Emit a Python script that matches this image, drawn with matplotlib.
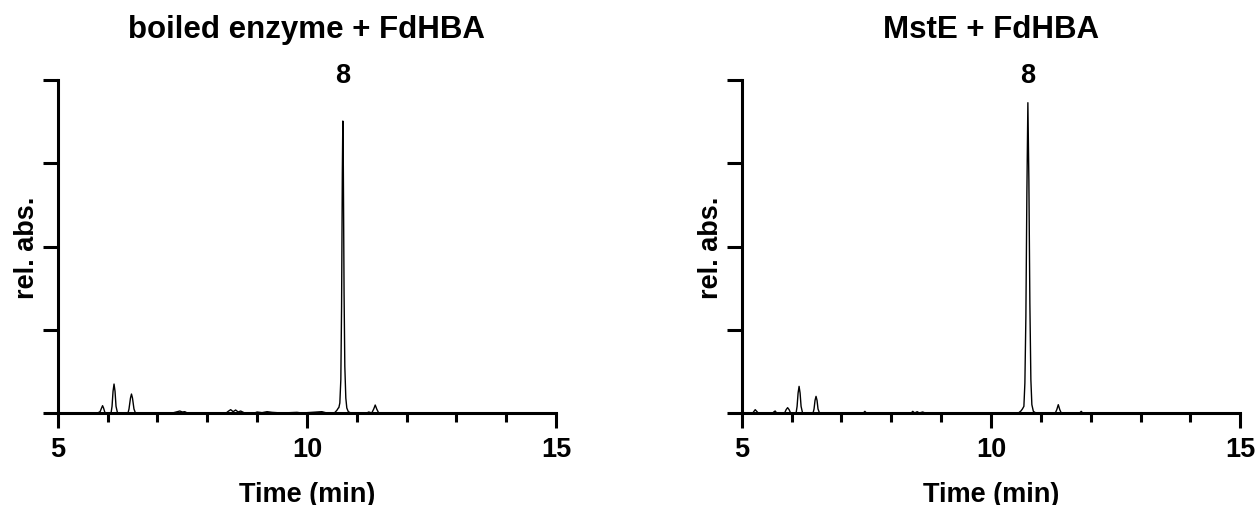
"""HPLC traces: boiled enzyme vs MstE with FdHBA."""

import matplotlib
matplotlib.use('Agg')
from matplotlib import pyplot as plt
from matplotlib.ticker import MultipleLocator
import matplotlib.transforms as mtransforms


# boiled enzyme + FdHBA (time in min, relative absorbance)
boiled_time = [5.0, 5.80, 5.85, 5.88, 5.90, 5.92, 5.95, 5.97, 6.00,
               6.07, 6.09, 6.11, 6.13, 6.15, 6.17, 6.20,
               6.41, 6.43, 6.46, 6.48, 6.50, 6.53, 6.56,
               7.30, 7.40, 7.45, 7.50, 7.55, 7.60,
               8.38, 8.42, 8.47, 8.52, 8.57, 8.62, 8.67, 8.75,
               8.95, 9.00, 9.10, 9.20, 9.30, 9.50, 9.80, 9.90, 10.30, 10.40,
               10.55, 10.60, 10.63, 10.64, 10.66, 10.68, 10.695, 10.71, 10.72,
               10.73, 10.745, 10.76, 10.78, 10.80, 10.83, 10.88,
               11.20, 11.24, 11.30, 11.34, 11.37, 11.40, 11.44, 12.0]
boiled_abs = [0.0, 0.0, 0.004, 0.015, 0.022, 0.015, 0.0, -0.004, 0.0,
              0.0, 0.02, 0.065, 0.087, 0.065, 0.02, 0.0,
              0.0, 0.012, 0.045, 0.057, 0.045, 0.012, 0.0,
              0.0, 0.004, 0.006, 0.003, 0.004, 0.0,
              0.0, 0.005, 0.010, 0.004, 0.009, 0.003, 0.006, 0.0,
              0.0, 0.003, 0.001, 0.004, 0.002, 0.0, 0.002, 0.0, 0.004, 0.0,
              0.0, 0.008, 0.015, 0.016, 0.03, 0.10, 0.32, 0.72, 0.877,
              0.74, 0.36, 0.14, 0.045, 0.015, 0.004, 0.0,
              0.0, 0.003, 0.0, 0.012, 0.024, 0.012, 0.0, 0.0]

# MstE + FdHBA
mste_time = [5.0, 5.22, 5.25, 5.27, 5.30, 5.33,
             5.62, 5.65, 5.67, 5.70,
             5.86, 5.89, 5.92, 5.95, 5.98,
             6.09, 6.11, 6.13, 6.15, 6.17, 6.19, 6.22,
             6.43, 6.45, 6.47, 6.49, 6.51, 6.53, 6.56,
             7.44, 7.47, 7.50,
             8.40, 8.43, 8.47, 8.52, 8.56, 8.63, 8.68,
             10.55, 10.60, 10.63, 10.66, 10.68, 10.70, 10.72, 10.74,
             10.76, 10.78, 10.80, 10.82, 10.85, 10.90,
             11.29, 11.32, 11.35, 11.38, 11.41,
             11.78, 11.81, 11.84, 12.0]
mste_abs = [0.0, 0.0, 0.006, 0.010, 0.005, 0.0,
            0.0, 0.004, 0.006, 0.0,
            0.0, 0.010, 0.016, 0.010, 0.0,
            0.0, 0.02, 0.06, 0.08, 0.06, 0.02, 0.0,
            0.0, 0.012, 0.038, 0.05, 0.038, 0.012, 0.0,
            0.0, 0.005, 0.0,
            0.0, 0.005, 0.0, 0.004, 0.0, 0.003, 0.0,
            0.0, 0.006, 0.012, 0.02, 0.09, 0.29, 0.66, 0.932,
            0.70, 0.33, 0.10, 0.025, 0.005, 0.0,
            0.0, 0.010, 0.025, 0.010, 0.0,
            0.0, 0.005, 0.0, 0.0]

titles = ['boiled enzyme + FdHBA', 'MstE + FdHBA']
peak_label = '8'
peak_time = [10.72, 10.74]


def draw_panel(ax, time, absorb, title, t_peak):
    ax.plot(time, absorb, color='black', lw=1.0, clip_on=False)
    ax.set_xlim(5, 15)
    ax.set_ylim(0, 1)
    ax.spines['top'].set_visible(False)
    ax.spines['right'].set_visible(False)
    ax.spines['left'].set_linewidth(2.2)
    ax.spines['bottom'].set_linewidth(2.2)
    ax.xaxis.set_major_locator(MultipleLocator(5))
    ax.xaxis.set_minor_locator(MultipleLocator(1))
    ax.yaxis.set_major_locator(MultipleLocator(0.25))
    ax.tick_params(axis='x', which='major', length=10.8, width=2.2,
                   labelsize=19.5, pad=6)
    ax.tick_params(axis='x', which='minor', length=6.5, width=2.2)
    ax.tick_params(axis='y', which='major', length=10.8, width=2.2,
                   labelleft=False)
    for lab in ax.get_xticklabels():
        lab.set_fontweight('bold')
    ax.set_xlabel('Time (min)', fontsize=19.5, fontweight='bold')
    ax.xaxis.set_label_coords(0.5, -0.205)
    ax.set_ylabel('rel. abs.', fontsize=19.5, fontweight='bold')
    ax.yaxis.set_label_coords(-0.036, 0.5)
    ax.set_title(title, fontsize=22.5, fontweight='bold', pad=31)
    trans = mtransforms.blended_transform_factory(ax.transData, ax.transAxes)
    ax.text(t_peak, 1.015, peak_label, transform=trans, ha='center',
            va='center', fontsize=19.5, fontweight='bold')


def _main():
    plt.rcParams['font.family'] = ['Liberation Sans', 'DejaVu Sans']
    plt.rcParams['font.weight'] = 'bold'
    fig = plt.figure(figsize=(12.6, 5.06), dpi=100)
    ax1 = fig.add_axes([0.0458, 0.1818, 0.3956, 0.658])
    ax2 = fig.add_axes([0.5887, 0.1818, 0.3956, 0.658])
    draw_panel(ax1, boiled_time, boiled_abs, titles[0], peak_time[0])
    draw_panel(ax2, mste_time, mste_abs, titles[1], peak_time[1])
    fig.savefig('out.png', dpi=100)


if __name__ == '__main__':
    _main()
